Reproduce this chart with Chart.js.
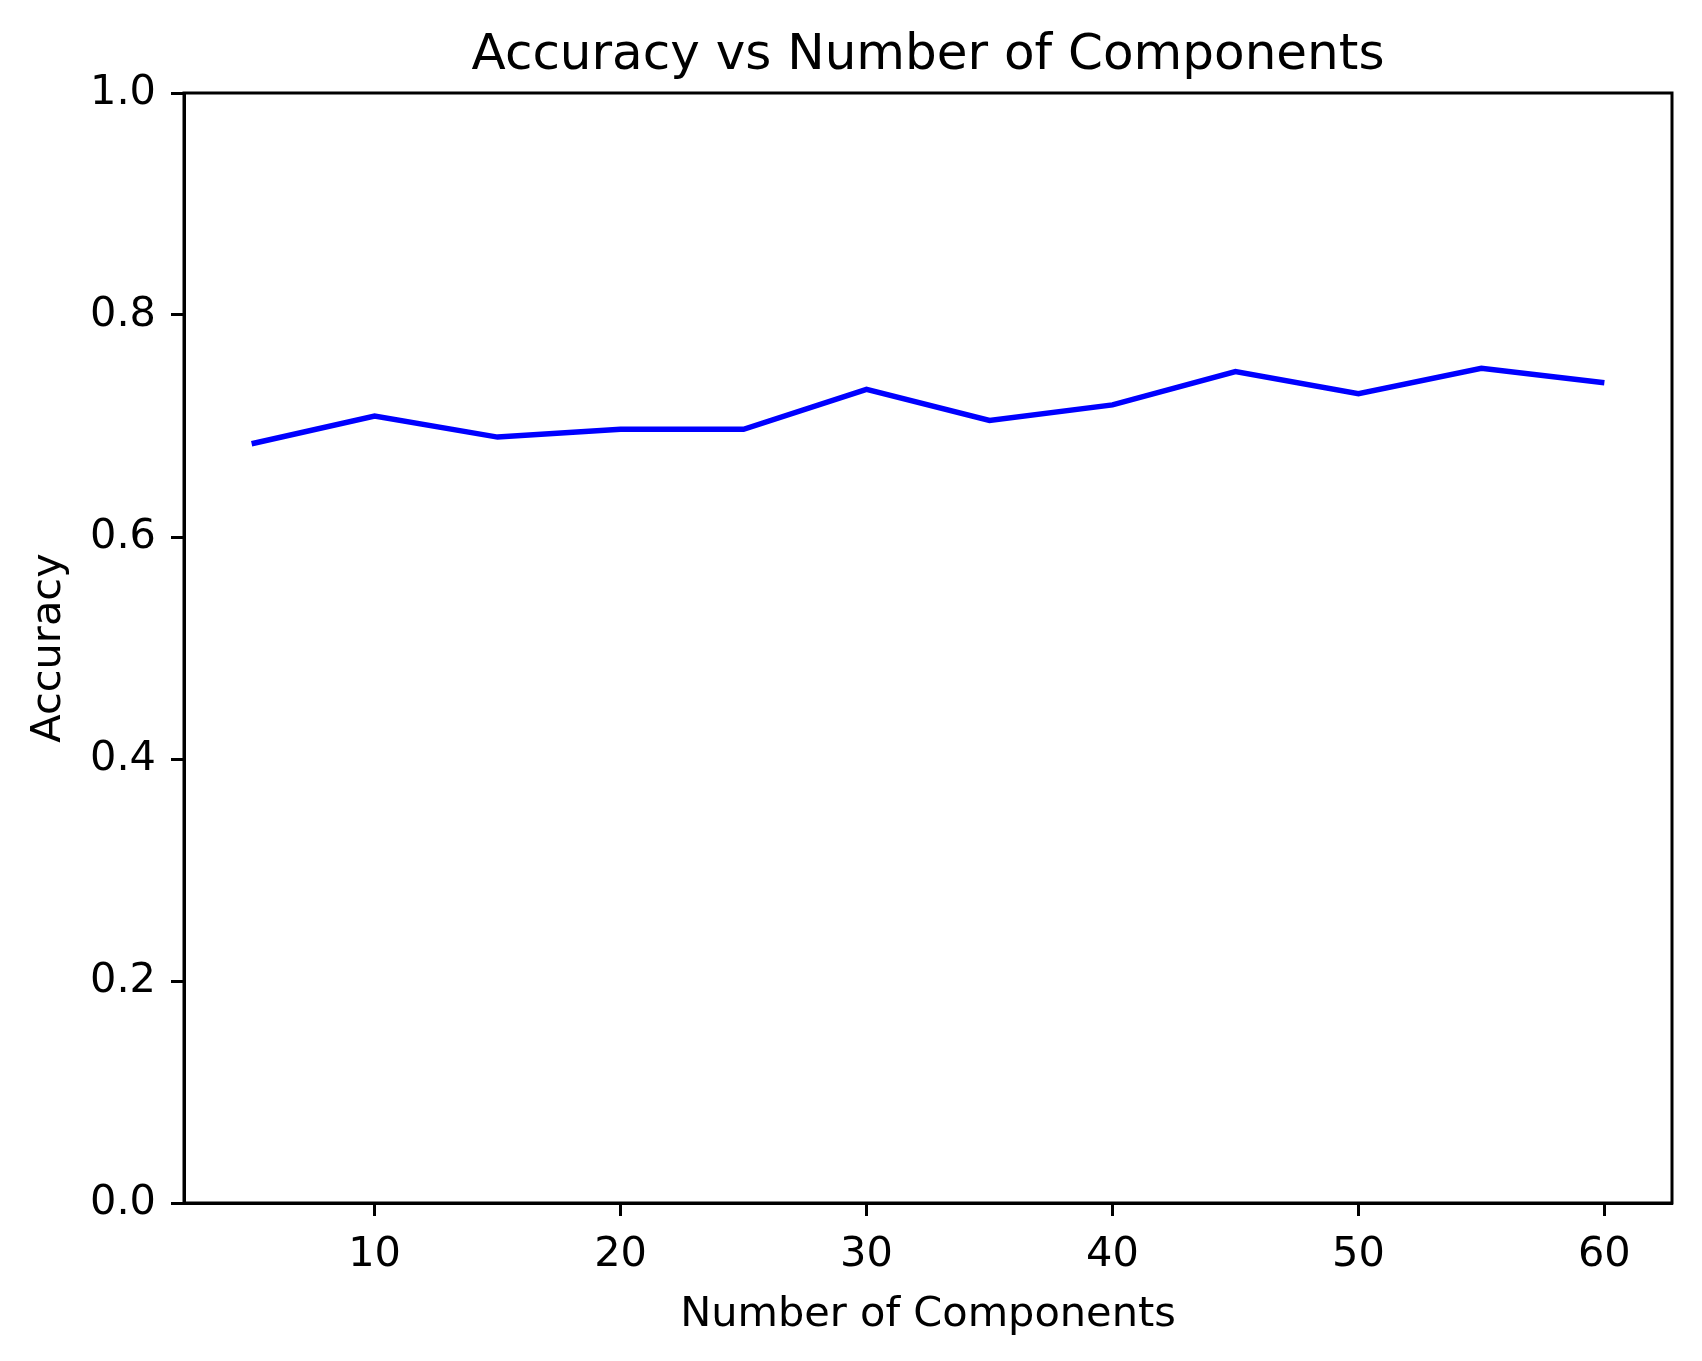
<!DOCTYPE html>
<html>
<head>
  <title>Accuracy vs Number of Components</title>
  <script src="https://cdn.jsdelivr.net/npm/chart.js"></script>
  <style>
    body { margin: 0; background: #fff; }
    canvas { display: block; }
  </style>
</head>
<body>
  <canvas id="accChart" width="1702" height="1361"></canvas>
  <script>
    const components = [5, 10, 15, 20, 25, 30, 35, 40, 45, 50, 55, 60];
    const accuracy = [0.684, 0.709, 0.690, 0.697, 0.697, 0.733, 0.705, 0.719, 0.749, 0.729, 0.752, 0.739];
    const xTicks = [10, 20, 30, 40, 50, 60];
    const yTicks = [0, 0.2, 0.4, 0.6, 0.8, 1.0];

    Chart.defaults.font.family = "'DejaVu Sans', sans-serif";
    Chart.defaults.color = '#000';

    // matplotlib draws a full box round the axes
    const frame = {
      id: 'frame',
      afterDraw(chart) {
        const a = chart.chartArea, ctx = chart.ctx;
        ctx.save();
        ctx.strokeStyle = '#000';
        ctx.lineWidth = 3;
        ctx.strokeRect(a.left, a.top, a.right - a.left, a.bottom - a.top);
        ctx.restore();
      }
    };

    new Chart(document.getElementById('accChart'), {
      type: 'line',
      data: {
        datasets: [{
          data: components.map((c, i) => ({ x: c, y: accuracy[i] })),
          borderColor: '#0000ff',
          borderWidth: 5.5,
          pointRadius: 0,
          fill: false,
          tension: 0
        }]
      },
      options: {
        responsive: false,
        devicePixelRatio: 1,
        animation: false,
        layout: { padding: { left: 20, right: 30, top: 0, bottom: 17 } },
        plugins: {
          legend: { display: false },
          tooltip: { enabled: false },
          title: {
            display: true,
            fullSize: false,
            text: 'Accuracy vs Number of Components',
            font: { size: 50, weight: 'normal' },
            padding: { top: 26, bottom: 7 }
          }
        },
        scales: {
          x: {
            type: 'linear',
            min: 2.25,
            max: 62.75,
            afterBuildTicks: s => { s.ticks = xTicks.map(v => ({ value: v })); },
            afterFit: s => { s.height = 141; },
            grid: { drawOnChartArea: false, tickLength: 13, tickWidth: 3, tickColor: '#000' },
            border: { color: '#000', width: 3 },
            ticks: { font: { size: 41.5 }, padding: 14, maxRotation: 0 },
            title: { display: true, text: 'Number of Components', font: { size: 41.5 }, padding: { top: 8 } }
          },
          y: {
            min: 0,
            max: 1,
            afterBuildTicks: s => { s.ticks = yTicks.map(v => ({ value: v })); },
            afterFit: s => { s.width = 164; },
            grid: { drawOnChartArea: false, tickLength: 13, tickWidth: 3, tickColor: '#000' },
            border: { color: '#000', width: 3 },
            ticks: { font: { size: 41.5 }, padding: 15, callback: v => v.toFixed(1) },
            title: { display: true, text: 'Accuracy', font: { size: 41.5 }, padding: { bottom: 10 } }
          }
        }
      },
      plugins: [frame]
    });
  </script>
</body>
</html>
